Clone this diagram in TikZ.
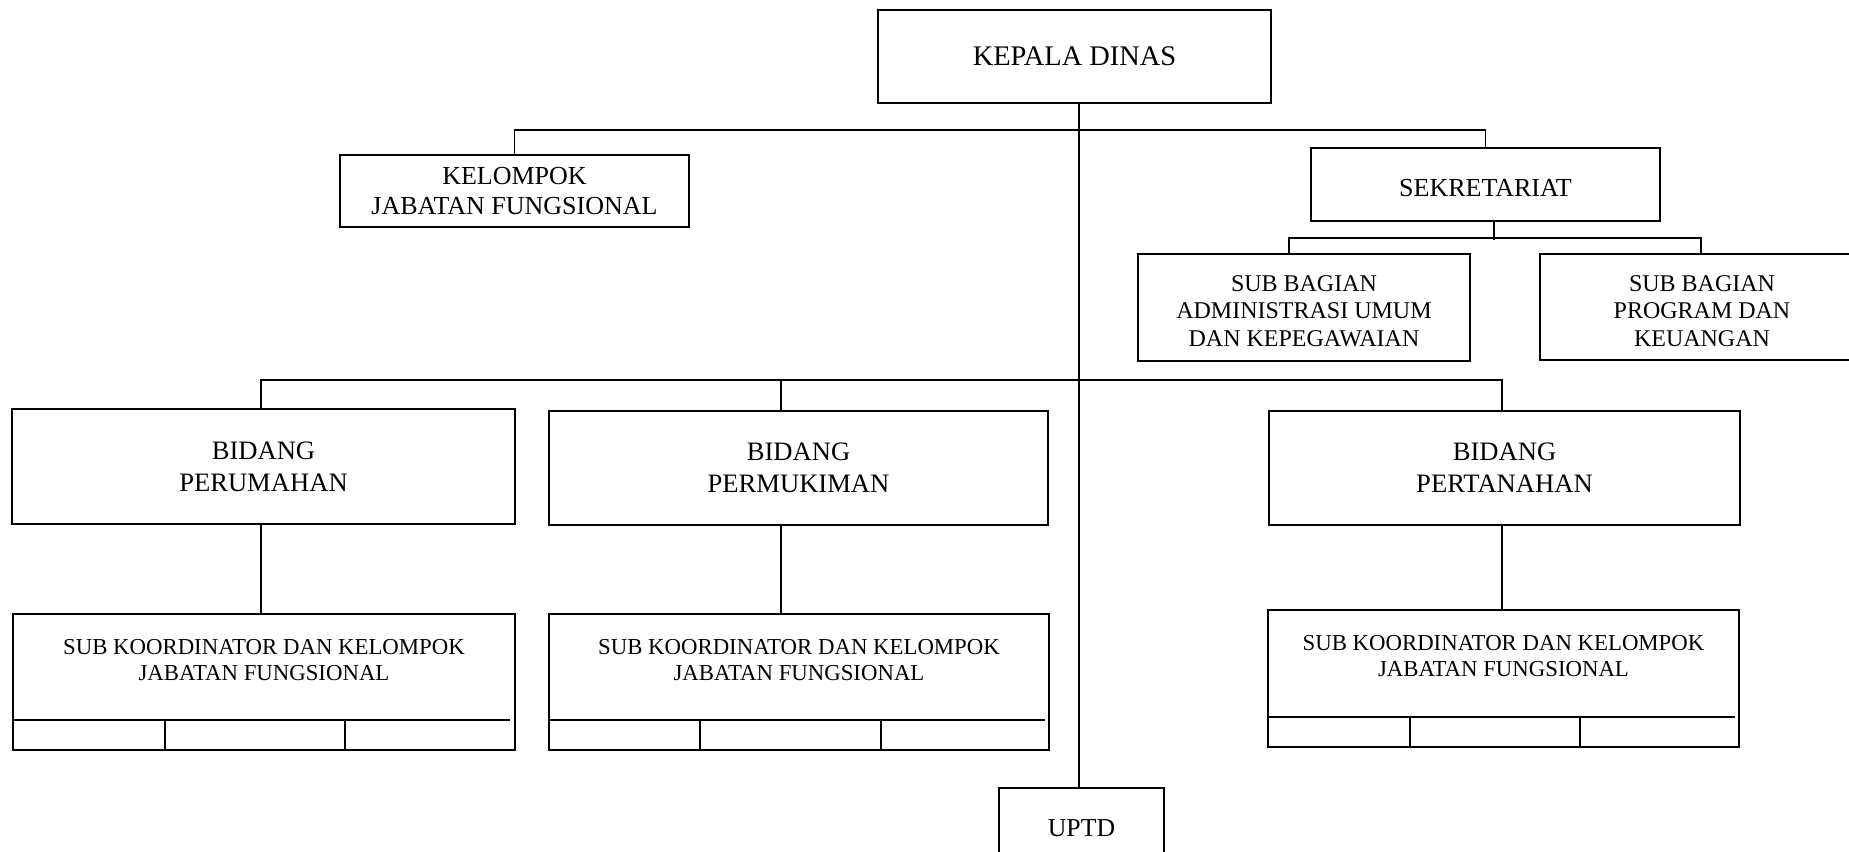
\documentclass[tikz,border=0pt]{standalone}
\usepackage{fontspec}
\setmainfont{Liberation Serif}
\newcommand{\fsz}[2]{\fontsize{#1}{#2}\selectfont}
\begin{document}
\begin{tikzpicture}[x=0.5pt,y=-0.5pt,
  box/.style={draw, rectangle, inner sep=0pt, align=center, line width=0.9pt},
  lbl/.style={inner sep=0pt, align=center},
  conn/.style={draw, line width=0.9pt},
  inner/.style={draw, line width=0.9pt}]
\useasboundingbox (0,0) rectangle (1849,852);
\clip (0,0) rectangle (1849,852);

% helper x positions
\coordinate (trunk) at (1079,0);
\coordinate (sdrop) at (1494,0);
\coordinate (sxL) at (1289,0);
\coordinate (sxR) at (1701,0);
\coordinate (b1) at (261,0);
\coordinate (b2) at (781,0);
\coordinate (b3) at (1502,0);

% boxes
\node[box, minimum width=196.5pt, minimum height=46.5pt, font=\fsz{14.2}{17}] (kd) at (1074.5,56.5) {KEPALA DINAS};
\node[box, minimum width=174.5pt, minimum height=36pt, font=\fsz{13}{15.3}] (kjf) at (514.5,191) {KELOMPOK\\JABATAN FUNGSIONAL};
\node[box, minimum width=174.5pt, minimum height=36.5pt] (sek) at (1485.5,184.5) {};
\node[lbl, font=\fsz{13}{15.5}] (sekt) at (1485.5,188) {SEKRETARIAT};
\node[box, minimum width=166pt, minimum height=53.5pt] (sba) at (1304,307.5) {};
\node[lbl, font=\fsz{12}{13.8}] (sbat) at (1304,311) {SUB BAGIAN\\ADMINISTRASI UMUM\\DAN KEPEGAWAIAN};
\node[box, minimum width=162pt, minimum height=53pt] (sbp) at (1702,307) {};
\node[lbl, font=\fsz{12}{13.8}] (sbpt) at (1702,311) {SUB BAGIAN\\PROGRAM DAN\\KEUANGAN};

\node[box, minimum width=251.5pt, minimum height=57.5pt, font=\fsz{13.3}{16}] (bper) at (263.5,466.5) {BIDANG\\PERUMAHAN};
\node[box, minimum width=249.5pt, minimum height=57pt, font=\fsz{13.3}{16}] (bpmk) at (798.5,468) {BIDANG\\PERMUKIMAN};
\node[box, minimum width=235.5pt, minimum height=57pt, font=\fsz{13.3}{16}] (bptn) at (1504.5,468) {BIDANG\\PERTANAHAN};

\node[box, minimum width=251pt, minimum height=68pt] (sub1) at (264,682) {};
\node[box, minimum width=250pt, minimum height=68pt] (sub2) at (799,682) {};
\node[box, minimum width=235.5pt, minimum height=68.5pt] (sub3) at (1503.5,678.5) {};

\node[lbl, font=\fsz{11.4}{13}] (sub1t) at (264,660) {SUB KOORDINATOR DAN KELOMPOK\\JABATAN FUNGSIONAL};
\node[lbl, font=\fsz{11.4}{13}] (sub2t) at (799,660) {SUB KOORDINATOR DAN KELOMPOK\\JABATAN FUNGSIONAL};
\node[lbl, font=\fsz{11.4}{13}] (sub3t) at (1503.5,656.5) {SUB KOORDINATOR DAN KELOMPOK\\JABATAN FUNGSIONAL};

\node[box, minimum width=82.5pt, minimum height=39pt] (uptd) at (1081.5,827) {};
\node[lbl, font=\fsz{12.9}{15}] (uptdt) at (1081.5,828) {UPTD};

% inner rows of sub boxes
\draw[inner] (13,720) -- (510,720);
\draw[inner] (165,720) -- (165,750);
\draw[inner] (345,720) -- (345,750);
\draw[inner] (549,720) -- (1045,720);
\draw[inner] (700,720) -- (700,750);
\draw[inner] (881,720) -- (881,750);
\draw[inner] (1268,717) -- (1735,717);
\draw[inner] (1410,717) -- (1410,747);
\draw[inner] (1580,717) -- (1580,747);

% connectors
\draw[conn] (kd.south -| trunk) -- (uptd.north -| trunk);
\draw[conn] (kjf.north) -- ++(0,-24) -| (sek.north);
\draw[conn] (sek.south -| sdrop) -- ++(0,18);
\draw[conn] (sba.north -| sxL) -- ++(0,-15) -| (sbp.north -| sxR);
\draw[conn] (bper.north -| b1) -- ++(0,-28) -| (bptn.north -| b3);
\draw[conn] (bpmk.north -| b2) -- ++(0,-31);
\draw[conn] (bper.south -| b1) -- (sub1.north -| b1);
\draw[conn] (bpmk.south -| b2) -- (sub2.north -| b2);
\draw[conn] (bptn.south -| b3) -- (sub3.north -| b3);
\end{tikzpicture}
\end{document}
